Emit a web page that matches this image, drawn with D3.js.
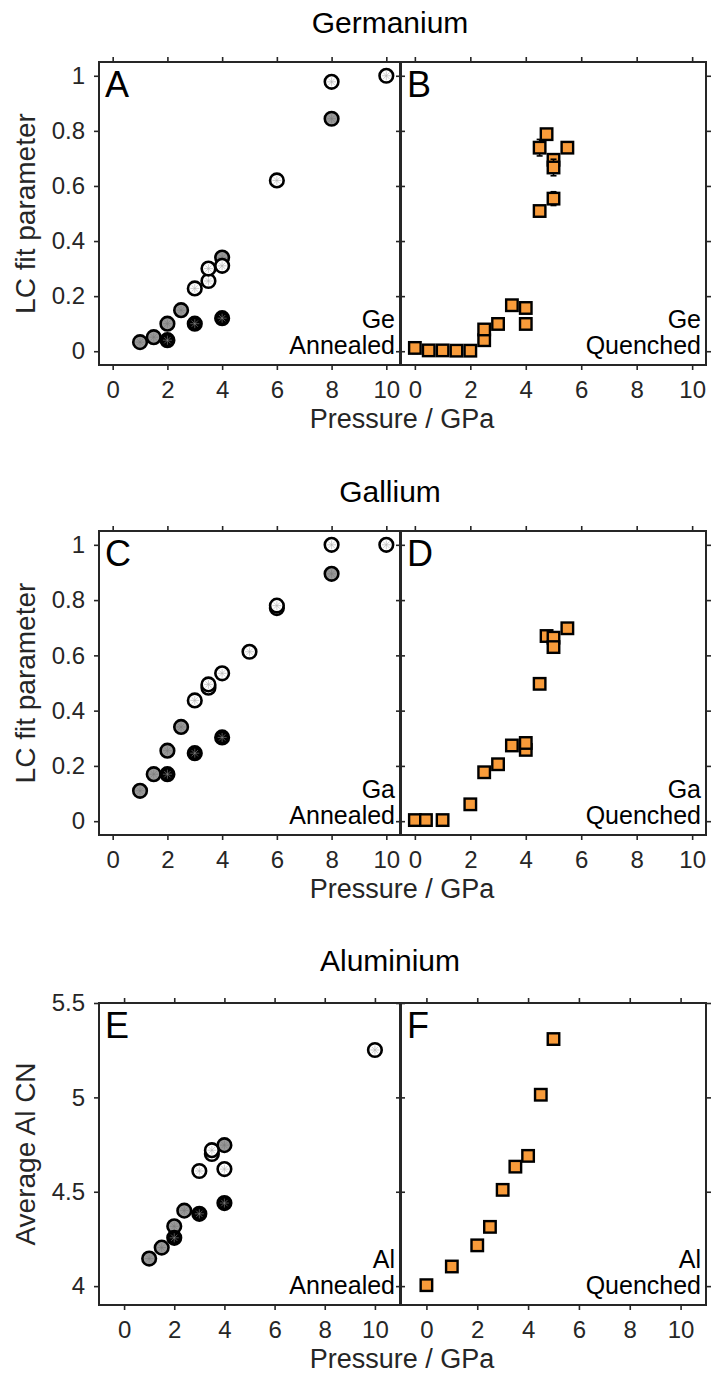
<!DOCTYPE html>
<html><head><meta charset="utf-8">
<script src="https://cdn.jsdelivr.net/npm/d3@7"></script>
<style>body{margin:0;background:#fff;} svg{display:block;font-family:"Liberation Sans",Arial,Helvetica,sans-serif;}</style>
</head><body><svg id="chart" width="711" height="1376"></svg>
<script>
// ---------- data ----------
const xTicks = [0, 2, 4, 6, 8, 10];
const lcTicks = [0, 0.2, 0.4, 0.6, 0.8, 1];
const cnTicks = [4, 4.5, 5, 5.5];
const titles = ["Germanium", "Gallium", "Aluminium"];
const panelLetters = [["A", "B"], ["C", "D"], ["E", "F"]];
const elements = ["Ge", "Ga", "Al"];
const yLabels = ["LC fit parameter", "LC fit parameter", "Average Al CN"];
const xLabel = "Pressure / GPa";

// annealed series: [pressure, value]
const geAnnealedOpen  = [[3,0.228],[3.5,0.255],[3.5,0.30],[4,0.31],[6,0.62],[8,0.978],[10,1.0]];
const geAnnealedGrey  = [[1,0.033],[1.5,0.051],[2,0.10],[2.5,0.149],[4,0.34],[8,0.844]];
const geAnnealedBlack = [[2,0.04],[3,0.10],[4,0.12]];
// quenched series: [pressure, value, error]
const geQuenched = [[0,0.012,0.02],[0.5,0.003,0.005],[1,0.003,0.005],[1.5,0.002,0.004],[2,0.002,0.004],
  [2.5,0.04,0.006],[2.5,0.079,0.006],[3,0.099,0.006],[3.5,0.167,0.006],[4,0.157,0.008],[4,0.099,0.006],
  [4.5,0.509,0.012],[5,0.554,0.025],[4.5,0.739,0.03],[4.75,0.788,0.012],[5,0.695,0.01],[5,0.667,0.03],[5.5,0.739,0.02]];

const gaAnnealedOpen  = [[3,0.437],[3.5,0.483],[3.5,0.495],[4,0.535],[5,0.613],[6,0.771],[6,0.78],[8,1.0],[10,1.0]];
const gaAnnealedGrey  = [[1,0.11],[1.5,0.17],[2,0.255],[2.5,0.341],[8,0.895]];
const gaAnnealedBlack = [[2,0.17],[3,0.246],[4,0.303]];
const gaQuenched = [[0,0.004,0.015],[0.4,0.004,0.008],[1,0.004,0.012],[2,0.061,0.005],[2.5,0.177,0.005],
  [3,0.206,0.005],[3.5,0.274,0.005],[4,0.258,0.005],[4,0.283,0.005],[4.5,0.497,0.005],[4.75,0.67,0.005],
  [5,0.664,0.005],[5,0.63,0.01],[5.5,0.698,0.005]];

const alAnnealedOpen  = [[3,4.61],[3.5,4.70],[3.5,4.72],[4,4.62],[10,5.251]];
const alAnnealedGrey  = [[1,4.146],[1.5,4.204],[2,4.317],[2.4,4.40],[4,4.747]];
const alAnnealedBlack = [[2,4.256],[3,4.383],[4,4.44]];
const alQuenched = [[0,4.005,0],[1,4.104,0],[2,4.216,0],[2.5,4.314,0],[3,4.51,0],[3.5,4.633,0],[4,4.69,0],[4.5,5.014,0],[5,5.309,0]];

// ---------- layout ----------
const axisColor = "#262626";
const orange = "#f89b3a";
const rows = [
  {y0: 62, y1: 365, xDom: [-0.5, 10.5], yDom: [-0.05, 1.05], yTicks: lcTicks, titleY: 33,
   annealed: [geAnnealedGrey, geAnnealedBlack, geAnnealedOpen], quenched: geQuenched},
  {y0: 531, y1: 835, xDom: [-0.5, 10.5], yDom: [-0.05, 1.05], yTicks: lcTicks, titleY: 502,
   annealed: [gaAnnealedGrey, gaAnnealedBlack, gaAnnealedOpen], quenched: gaQuenched},
  {y0: 1003, y1: 1305, xDom: [-1, 11], yDom: [3.9, 5.5], yTicks: cnTicks, titleY: 971,
   annealed: [alAnnealedGrey, alAnnealedBlack, alAnnealedOpen], quenched: alQuenched}
];
const cols = [{x0: 99, x1: 400}, {x0: 401, x1: 706}];
const fills = ["#9a9a9a", "#000000", "#ffffff"];
const spokeColors = ["#7a7a7a", "#8a8a8a", "#b0b0b0"];

const svg = d3.select("#chart");
const fmt = d => String(d);

function styleAxis(sel, labelSize) {
  sel.select(".domain").remove();
  sel.selectAll(".tick line").attr("stroke", axisColor).attr("stroke-width", 1.6);
  sel.selectAll(".tick text").attr("fill", axisColor).style("font-size", labelSize + "px");
}

rows.forEach((row, ri) => {
  // title
  svg.append("text").attr("x", 390).attr("y", row.titleY).attr("text-anchor", "middle")
    .style("font-size", "30px").attr("fill", "#000").text(titles[ri]);
  // y label
  svg.append("text").attr("transform", `translate(35,${(row.y0 + row.y1) / 2}) rotate(-90)`)
    .attr("text-anchor", "middle").style("font-size", "28px").attr("fill", axisColor).text(yLabels[ri]);
  // x label
  svg.append("text").attr("x", 402).attr("y", row.y1 + 63).attr("text-anchor", "middle")
    .style("font-size", "27px").attr("fill", axisColor).text(xLabel);

  cols.forEach((col, ci) => {
    const x = d3.scaleLinear().domain(row.xDom).range([col.x0, col.x1]);
    const y = d3.scaleLinear().domain(row.yDom).range([row.y1, row.y0]);
    const g = svg.append("g");

    // axes
    g.append("g").attr("transform", `translate(0,${row.y1})`)
      .call(d3.axisBottom(x).tickValues(xTicks).tickSize(5).tickSizeOuter(0).tickPadding(11).tickFormat(fmt))
      .call(s => styleAxis(s, 24));
    g.append("g").attr("transform", `translate(0,${row.y0})`)
      .call(d3.axisTop(x).tickValues(xTicks).tickSize(5).tickSizeOuter(0).tickFormat(""))
      .call(s => styleAxis(s, 24));
    g.append("g").attr("transform", `translate(${col.x0},0)`)
      .call(d3.axisLeft(y).tickValues(row.yTicks).tickSize(5).tickSizeOuter(0).tickPadding(9)
        .tickFormat(ci === 0 ? fmt : ""))
      .call(s => styleAxis(s, 24));
    g.append("g").attr("transform", `translate(${col.x1},0)`)
      .call(d3.axisRight(y).tickValues(row.yTicks).tickSize(5).tickSizeOuter(0).tickFormat(""))
      .call(s => styleAxis(s, 24));

    // frame
    g.append("rect").attr("x", col.x0).attr("y", row.y0)
      .attr("width", col.x1 - col.x0).attr("height", row.y1 - row.y0)
      .attr("fill", "none").attr("stroke", axisColor).attr("stroke-width", 2);

    const plot = g.append("g");
    if (ci === 0) {
      row.annealed.forEach((series, si) => {
        const pts = plot.selectAll(null).data(series).enter().append("g")
          .attr("transform", d => `translate(${x(d[0])},${y(d[1])})`);
        pts.append("circle").attr("r", 6.8).attr("fill", fills[si])
          .attr("stroke", "#000").attr("stroke-width", 2.6);
        [0, 45, 90, 135].forEach(a => {
          const rad = a * Math.PI / 180, L = 4.5;
          pts.append("line")
            .attr("x1", -L * Math.cos(rad)).attr("y1", -L * Math.sin(rad))
            .attr("x2", L * Math.cos(rad)).attr("y2", L * Math.sin(rad))
            .attr("stroke", spokeColors[si]).attr("stroke-width", 0.6);
        });
      });
    } else {
      const s = 11.5;
      const pts = plot.selectAll(null).data(row.quenched).enter().append("g");
      const withErr = pts.filter(d => d[2] > 0);
      withErr.append("line")
        .attr("x1", d => x(d[0])).attr("x2", d => x(d[0]))
        .attr("y1", d => y(d[1] - d[2])).attr("y2", d => y(d[1] + d[2]))
        .attr("stroke", "#000").attr("stroke-width", 1.6);
      withErr.append("line")
        .attr("x1", d => x(d[0]) - 3).attr("x2", d => x(d[0]) + 3)
        .attr("y1", d => y(d[1] - d[2])).attr("y2", d => y(d[1] - d[2]))
        .attr("stroke", "#000").attr("stroke-width", 1.6);
      withErr.append("line")
        .attr("x1", d => x(d[0]) - 3).attr("x2", d => x(d[0]) + 3)
        .attr("y1", d => y(d[1] + d[2])).attr("y2", d => y(d[1] + d[2]))
        .attr("stroke", "#000").attr("stroke-width", 1.6);
      pts.append("rect")
        .attr("x", d => x(d[0]) - s / 2).attr("y", d => y(d[1]) - s / 2)
        .attr("width", s).attr("height", s)
        .attr("fill", orange).attr("stroke", "#000").attr("stroke-width", 2.4);
    }

    // panel letter
    g.append("text").attr("x", col.x0 + 6).attr("y", row.y0 + 35)
      .style("font-size", "36px").attr("fill", "#000").text(panelLetters[ri][ci]);
    // corner labels
    g.append("text").attr("x", col.x1 - 5).attr("y", row.y1 - 37).attr("text-anchor", "end")
      .style("font-size", "25px").attr("fill", "#000").text(elements[ri]);
    g.append("text").attr("x", col.x1 - 5).attr("y", row.y1 - 11).attr("text-anchor", "end")
      .style("font-size", "25px").attr("fill", "#000").text(ci === 0 ? "Annealed" : "Quenched");
  });
});
</script></body></html>
